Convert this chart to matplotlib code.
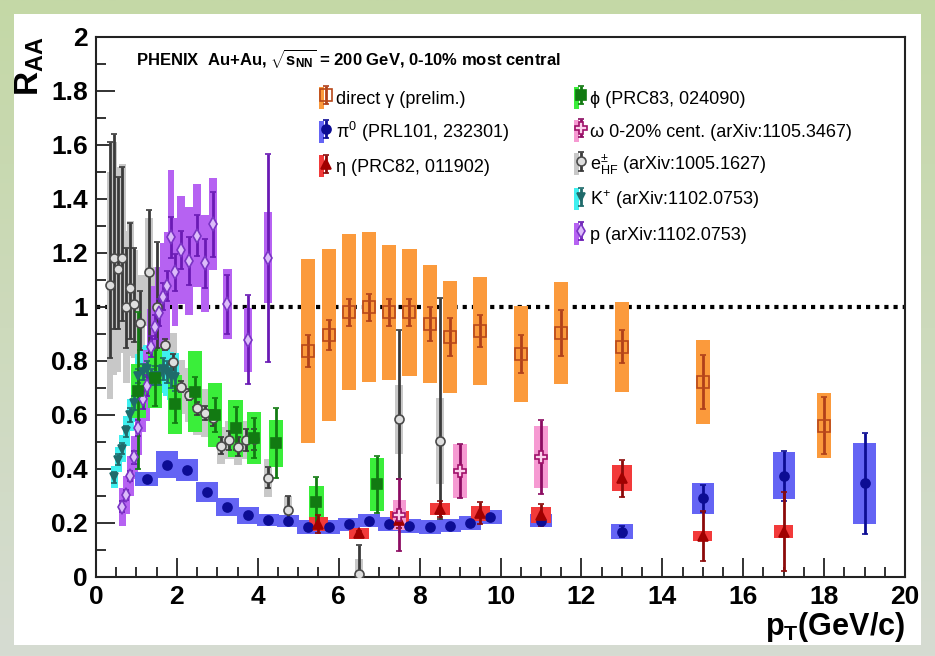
import numpy as np
import matplotlib.pyplot as plt
from matplotlib.patches import Patch, Rectangle
from matplotlib.legend_handler import HandlerTuple
from matplotlib.ticker import MultipleLocator

plt.rcParams['font.family'] = ['Liberation Sans', 'DejaVu Sans']
plt.rcParams['mathtext.fontset'] = 'custom'
plt.rcParams['mathtext.rm'] = 'Liberation Sans'
plt.rcParams['mathtext.it'] = 'Liberation Sans:italic'
plt.rcParams['mathtext.bf'] = 'Liberation Sans:bold'

# ---------------------------------------------------------
# R_AA values (central value, stat error, syst error)
# ---------------------------------------------------------

# direct photons (prelim.)
gam_pt = [5.25, 5.75, 6.25, 6.75, 7.25, 7.75, 8.25, 8.75, 9.5, 10.5, 11.5, 13, 15, 18]
gam_raa = [0.837, 0.896, 0.981, 1.0, 0.981, 0.981, 0.937, 0.889, 0.911, 0.826, 0.904, 0.853, 0.723, 0.56]
gam_stat = [0.06, 0.055, 0.05, 0.05, 0.05, 0.05, 0.063, 0.07, 0.06, 0.072, 0.085, 0.06, 0.1, 0.105]
gam_sys = [0.34, 0.32, 0.29, 0.278, 0.25, 0.235, 0.217, 0.207, 0.2, 0.178, 0.19, 0.167, 0.155, 0.12]

# pi0
pi0_pt = [1.25, 1.75, 2.25, 2.75, 3.25, 3.75, 4.25, 4.75, 5.25, 5.75, 6.25, 6.75,
          7.25, 7.75, 8.25, 8.75, 9.25, 9.75, 11, 13, 15, 17, 19]
pi0_raa = [0.363, 0.415, 0.397, 0.316, 0.259, 0.228, 0.212, 0.206, 0.186, 0.186, 0.195, 0.209,
           0.196, 0.189, 0.186, 0.19, 0.2, 0.223, 0.209, 0.168, 0.291, 0.375, 0.347]
pi0_stat = [0.005, 0.005, 0.005, 0.005, 0.005, 0.005, 0.005, 0.005, 0.005, 0.005, 0.005, 0.005,
            0.005, 0.005, 0.006, 0.006, 0.007, 0.008, 0.01, 0.02, 0.05, 0.093, 0.188]
pi0_sys = [0.025, 0.05, 0.04, 0.037, 0.033, 0.03, 0.022, 0.022, 0.025, 0.025, 0.025, 0.025,
           0.025, 0.025, 0.025, 0.025, 0.025, 0.026, 0.025, 0.028, 0.056, 0.087, 0.15]

# eta
eta_pt = [5.5, 6.5, 7.5, 8.5, 9.5, 11, 13, 15, 17]
eta_raa = [0.196, 0.162, 0.211, 0.252, 0.236, 0.23, 0.365, 0.152, 0.168]
eta_stat = [0.034, 0.01, 0.03, 0.03, 0.04, 0.04, 0.067, 0.093, 0.145]
eta_sys = [0.026, 0.02, 0.033, 0.023, 0.028, 0.029, 0.048, 0.02, 0.023]

# phi
phi_pt = [1.05, 1.45, 1.95, 2.45, 2.95, 3.45, 3.9, 4.45, 5.45, 6.95]
phi_raa = [0.69, 0.737, 0.64, 0.686, 0.60, 0.551, 0.514, 0.495, 0.276, 0.343]
phi_stat = [0.29, 0.105, 0.068, 0.055, 0.062, 0.08, 0.075, 0.13, 0.095, 0.105]
phi_sys = [0.1, 0.11, 0.11, 0.15, 0.12, 0.105, 0.096, 0.088, 0.06, 0.098]

# omega, 0-20%
omg_pt = [7.5, 9.0, 11.0]
omg_raa = [0.23, 0.394, 0.443]
omg_stat = [0.133, 0.1, 0.137]
omg_sys = [0.055, 0.1, 0.115]

# heavy flavour electrons (asymmetric stat errors)
ehf_pt = [0.35, 0.45, 0.55, 0.65, 0.75, 0.85, 0.95, 1.1, 1.3, 1.5, 1.7, 1.9, 2.1, 2.3,
          2.5, 2.7, 2.9, 3.1, 3.3, 3.5, 3.7, 3.9, 4.25, 4.75, 6.5, 7.5, 8.5]
ehf_raa = [1.08, 1.18, 1.14, 1.18, 1.00, 1.07, 1.01, 0.94, 1.13, 1.00, 0.86, 0.795, 0.705, 0.675,
           0.625, 0.607, 0.588, 0.487, 0.507, 0.483, 0.507, 0.51, 0.368, 0.25, 0.01, 0.584, 0.504]
ehf_hi = [0.53, 0.46, 0.34, 0.34, 0.22, 0.24, 0.21, 0.12, 0.23, 0.24, 0.02, 0.03, 0.02, 0.02,
          0.025, 0.025, 0.03, 0.03, 0.035, 0.035, 0.04, 0.04, 0.04, 0.05, 0.11, 0.33, 0.53]
ehf_lo = [0.27, 0.26, 0.22, 0.23, 0.15, 0.19, 0.14, 0.1, 0.3, 0.15, 0.02, 0.03, 0.02, 0.02,
          0.025, 0.025, 0.03, 0.03, 0.035, 0.035, 0.04, 0.04, 0.04, 0.05, 0.01, 0.22, 0.29]
ehf_sys = [0.42, 0.43, 0.38, 0.35, 0.28, 0.25, 0.2, 0.18, 0.2, 0.15, 0.12, 0.11, 0.1, 0.1,
           0.1, 0.09, 0.09, 0.07, 0.07, 0.07, 0.07, 0.07, 0.07, 0.05, 0.055, 0.127, 0.158]

# K+
kp_pt = [0.45, 0.55, 0.65, 0.75, 0.85, 0.95, 1.05, 1.15, 1.25, 1.35, 1.45, 1.55, 1.65, 1.75, 1.85, 1.95]
kp_raa = [0.37, 0.435, 0.475, 0.54, 0.60, 0.645, 0.745, 0.76, 0.77, 0.74, 0.745, 0.745, 0.77, 0.76, 0.745, 0.74]
kp_stat = [0.02, 0.02, 0.02, 0.02, 0.025, 0.025, 0.025, 0.03, 0.03, 0.03, 0.035, 0.035, 0.04, 0.04, 0.045, 0.05]
kp_sys = [0.04, 0.045, 0.05, 0.055, 0.06, 0.07, 0.08, 0.09, 0.09, 0.09, 0.09, 0.09, 0.09, 0.09, 0.09, 0.09]

# protons
p_pt = [0.65, 0.75, 0.85, 0.95, 1.05, 1.15, 1.25, 1.35, 1.45, 1.55, 1.65, 1.75, 1.85, 1.95,
        2.1, 2.3, 2.5, 2.7, 2.9, 3.25, 3.75, 4.25]
p_raa = [0.26, 0.304, 0.374, 0.443, 0.551, 0.658, 0.709, 0.853, 0.927, 0.979, 1.038, 1.079, 1.258, 1.128,
         1.211, 1.171, 1.264, 1.162, 1.306, 1.01, 0.878, 1.183]
p_stat = [0.02, 0.02, 0.02, 0.025, 0.03, 0.035, 0.04, 0.04, 0.045, 0.05, 0.05, 0.055, 0.075, 0.07,
          0.07, 0.09, 0.075, 0.09, 0.12, 0.11, 0.165, 0.385]
p_sys = [0.07, 0.07, 0.075, 0.08, 0.1, 0.12, 0.13, 0.14, 0.15, 0.17, 0.2, 0.2, 0.25, 0.2,
         0.2, 0.2, 0.19, 0.18, 0.17, 0.13, 0.12, 0.17]


def draw_set(ax, pt, raa, stat, sys, width, box_col, mk, ms, mfc, mec, ecol, stat_lo=None):
    pt = np.asarray(pt)
    raa = np.asarray(raa)
    sys = np.asarray(sys)
    ax.bar(pt, 2 * sys, bottom=raa - sys, width=width, color=box_col, linewidth=0, zorder=2)
    yerr = stat if stat_lo is None else [stat_lo, stat]
    cont = ax.errorbar(pt, raa, yerr=yerr, fmt=mk, ms=ms, mfc=mfc, mec=mec, mew=1.2,
                       ecolor=ecol, elinewidth=2, capsize=2.5, capthick=2, zorder=4)
    return (Patch(facecolor=box_col, edgecolor='none'), cont)


fig = plt.figure(figsize=(9.35, 6.56), dpi=100)

# green frame around a white panel
bg = fig.add_axes([0, 0, 1, 1], zorder=-10)
top_c = np.array([196, 216, 166]) / 255
bot_c = np.array([214, 220, 210]) / 255
grad = np.linspace(0, 1, 256)[:, None, None]
bg.imshow(top_c * (1 - grad) + bot_c * grad, aspect='auto', extent=[0, 1, 0, 1])
bg.add_patch(Rectangle((14 / 935, 1 - 645 / 656), (921 - 14) / 935, (645 - 14) / 656,
                       facecolor='white', edgecolor='none'))
bg.set_xlim(0, 1)
bg.set_ylim(0, 1)
bg.axis('off')

ax = fig.add_axes([96 / 935, 1 - 577 / 656, 809 / 935, 540 / 656])
ax.set_facecolor('white')

ax.plot([0, 20], [1, 1], linestyle=(0, (1, 1.2)), color='black', linewidth=3, zorder=1)

w_ehf = np.where(np.asarray(ehf_pt) < 1.0, 0.16, 0.2)
h_ehf = draw_set(ax, ehf_pt, ehf_raa, ehf_hi, ehf_sys, w_ehf, '#c8c8c8', 'o', 6.5,
                 '#dedede', '#4a4a4a', '#3a3a3a', stat_lo=ehf_lo)
h_kp = draw_set(ax, kp_pt, kp_raa, kp_stat, kp_sys, 0.18, '#3ff0f0', 'v', 6,
                '#1f6b6b', '#1f6b6b', '#1f6b6b')
w_p = np.where(np.asarray(p_pt) < 2.0, 0.16, 0.2)
h_p = draw_set(ax, p_pt, p_raa, p_stat, p_sys, w_p, '#b662f2', 'd', 7,
               '#dcbcfa', '#7a34c4', '#6a1ab4')
h_phi = draw_set(ax, phi_pt, phi_raa, phi_stat, phi_sys, 0.35, '#3aee3a', 's', 6.5,
                 '#127a12', '#127a12', '#127a12')
h_pi0 = draw_set(ax, pi0_pt, pi0_raa, pi0_stat, pi0_sys, 0.55, '#6464f4', 'o', 6.5,
                 '#0c0c94', '#0c0c94', '#0c0c94')
h_gam = draw_set(ax, gam_pt, gam_raa, gam_stat, gam_sys, 0.35, '#fb9a3c', 's', 8,
                 'none', '#b8481a', '#b0401a')
h_eta = draw_set(ax, eta_pt, eta_raa, eta_stat, eta_sys, 0.48, '#f23a3a', '^', 7,
                 '#a00000', '#a00000', '#8c0a0a')
h_omg = draw_set(ax, omg_pt, omg_raa, omg_stat, omg_sys, 0.33, '#f69ad2', 'P', 9,
                 '#fbd2ec', '#a0106a', '#8c0c62')

ax.set_xlim(0, 20)
ax.set_ylim(0, 2)
ax.xaxis.set_major_locator(MultipleLocator(2))
ax.xaxis.set_minor_locator(MultipleLocator(0.5))
ax.yaxis.set_major_locator(MultipleLocator(0.2))
ax.yaxis.set_minor_locator(MultipleLocator(0.1))
ax.yaxis.set_major_formatter(plt.FuncFormatter(lambda v, p: f"{v:g}"))
ax.tick_params(which='both', direction='in', top=False, right=False, width=1.3, color='#222222')
ax.tick_params(which='major', length=14, labelsize=19, pad=6)
ax.tick_params(which='minor', length=7)
for lab in ax.get_xticklabels() + ax.get_yticklabels():
    lab.set_fontweight('bold')
for s in ax.spines.values():
    s.set_linewidth(1.5)
    s.set_color('#222222')

ax.text(0.05, 0.96, r"PHENIX  Au+Au, $\mathbf{\sqrt{s_{NN}}}$ = 200 GeV, 0-10% most central",
        transform=ax.transAxes, fontsize=12, fontweight='bold', va='center', ha='left')

fig.text(30 / 935, 1 - 36 / 656, r"R$_{\mathbf{AA}}$", rotation=90, fontsize=24, fontweight='bold',
         ha='center', va='top')
fig.text(905 / 935, 1 - 627 / 656, r"p$_{\mathbf{T}}$(GeV/c)", fontsize=22, fontweight='bold',
         ha='right', va='center')

hmap = {tuple: HandlerTuple(ndivide=None)}
leg1 = ax.legend([h_gam, h_pi0, h_eta],
                 ["direct γ (prelim.)", r"π$^{0}$ (PRL101, 232301)", "η (PRC82, 011902)"],
                 handler_map=hmap, loc='upper left', bbox_to_anchor=(0.265, 0.925),
                 frameon=False, fontsize=13, handlelength=0.5, handleheight=1.5,
                 handletextpad=0.4, labelspacing=0.62, borderpad=0)
ax.add_artist(leg1)
ax.legend([h_phi, h_omg, h_ehf, h_kp, h_p],
          ["ϕ (PRC83, 024090)", "ω 0-20% cent. (arXiv:1105.3467)",
           r"e$^{\pm}_{\mathrm{HF}}$ (arXiv:1005.1627)", r"K$^{+}$ (arXiv:1102.0753)",
           "p (arXiv:1102.0753)"],
          handler_map=hmap, loc='upper left', bbox_to_anchor=(0.58, 0.925),
          frameon=False, fontsize=13, handlelength=0.5, handleheight=1.5,
          handletextpad=0.4, labelspacing=0.62, borderpad=0)

fig.savefig("out.png", dpi=100)
